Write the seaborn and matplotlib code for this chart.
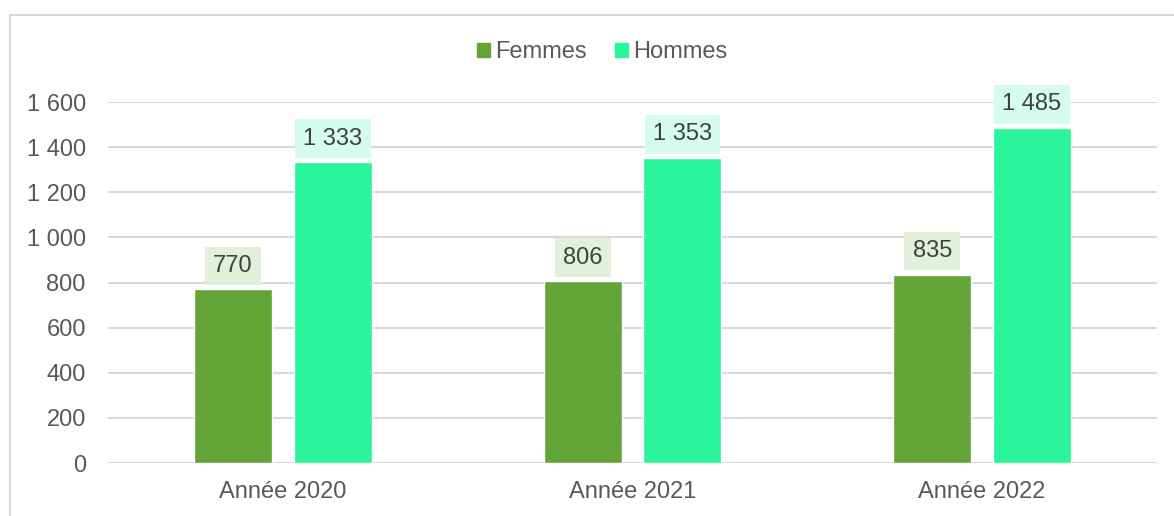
import pandas as pd
import matplotlib.pyplot as plt
import seaborn as sns
from matplotlib.patches import Rectangle
from matplotlib.ticker import FuncFormatter

annees = ["Année 2020", "Année 2021", "Année 2022"]
femmes = [770, 806, 835]
hommes = [1333, 1353, 1485]
series = ["Femmes", "Hommes"]
couleurs = {"Femmes": "#63a537", "Hommes": "#2bf59a"}
fonds = {"Femmes": "#e2f0d9", "Hommes": "#d5fcec"}

data = pd.DataFrame({
    "annee": annees * 2,
    "serie": ["Femmes"] * 3 + ["Hommes"] * 3,
    "valeur": femmes + hommes,
})

sns.set_style("white")
plt.rcParams['font.family'] = ['Liberation Sans', 'DejaVu Sans']

fig = plt.figure(figsize=(11.74, 5.16), dpi=100)
ax = fig.add_axes([0.092, 0.1027, 0.8935, 0.6996])

sns.barplot(data=data, x="annee", y="valeur", hue="serie", hue_order=series,
            palette=couleurs, width=0.571, gap=0.22, saturation=1,
            legend=False, ax=ax)

ax.set_ylim(0, 1600)
ax.set_xlim(-0.5, 2.5)
ax.set_yticks(range(0, 1601, 200))
ax.yaxis.set_major_formatter(FuncFormatter(lambda v, p: f"{int(v):,}".replace(",", " ")))
ax.grid(axis="y", color="#d9d9d9", linewidth=1.5)
ax.set_axisbelow(True)
for s in ax.spines.values():
    s.set_visible(False)
ax.tick_params(axis="both", length=0, labelsize=17, colors="#595959")
ax.tick_params(axis="y", pad=16)
ax.tick_params(axis="x", pad=13)
ax.set_xlabel("")
ax.set_ylabel("")

for cont, serie in zip(ax.containers, series):
    for bar in cont:
        h = bar.get_height()
        ax.annotate(f"{int(h):,}".replace(",", " "),
                    (bar.get_x() + bar.get_width() / 2, h),
                    xytext=(0, 9), textcoords="offset points",
                    ha="center", va="bottom", fontsize=17, color="#404040",
                    annotation_clip=False,
                    bbox=dict(boxstyle="square,pad=0.35", fc=fonds[serie], ec="none"))

handles = [Rectangle((0, 0), 1, 1, color=couleurs[s]) for s in series]
fig.legend(handles, series, loc="center", bbox_to_anchor=(0.513, 0.899), ncol=2,
           frameon=False, fontsize=17, labelcolor="#595959",
           handlelength=0.55, handleheight=0.55, handletextpad=0.2, columnspacing=1.2)

fig.patches.append(Rectangle((10 / 1174, -0.1), 1.2, (501 / 516) + 0.1,
                             transform=fig.transFigure, fill=False,
                             ec="#d9d9d9", lw=1.5, zorder=-1))

fig.savefig("out.png", dpi=100)
